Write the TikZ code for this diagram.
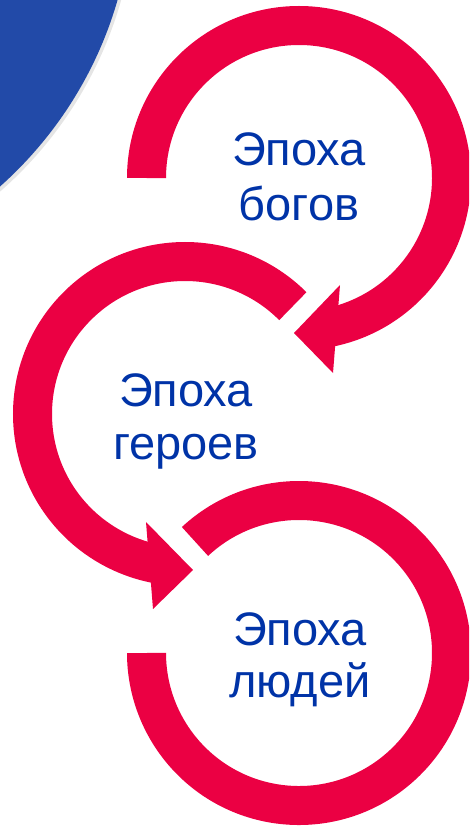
\documentclass[tikz,border=0pt]{standalone}
\usepackage{fontspec}
\setmainfont{Liberation Sans}
\definecolor{ringred}{RGB}{235,0,67}
\definecolor{txtblue}{RGB}{0,51,167}
\definecolor{bgblue}{RGB}{34,74,168}
\begin{document}
\begin{tikzpicture}[x=1pt,y=1pt,
  ring/.style={draw=ringred, line width=39pt, line cap=butt},
  head/.style={fill=ringred},
  lbl/.style={text=txtblue, font=\fontsize{47}{56}\selectfont, anchor=base, inner sep=0pt}]
\useasboundingbox (0,0) rectangle (469,-826);
\clip (0,0) rectangle (469,-826);
% blue corner disc with faint shadow
\fill[black!10] (-262,108) circle[radius=398];
\fill[bgblue] (-264,110) circle[radius=397];
% ring 1 (gods)
\draw[ring] (299,-178) ++(180:152.5) arc[start angle=180,end angle=-80,radius=152.5];
\fill[head] (340,-285) -- (294,-333) -- (333,-373) -- cycle;
% ring 2 (heroes)
\draw[ring] (185,-414) ++(45:152.5) arc[start angle=45,end angle=261,radius=152.5];
\fill[head] (146,-522) -- (193,-570) -- (153,-609) -- cycle;
% ring 3 (people)
\draw[ring] (299,-653) ++(133:152.5) arc[start angle=133,end angle=-180,radius=152.5];
% labels
\node[lbl] (t1a) at (299,-166) {Эпоха};
\node[lbl] (t1b) at (299,-220) {богов};
\node[lbl] (t2a) at (186,-406) {Эпоха};
\node[lbl] (t2b) at (186,-459) {героев};
\node[lbl] (t3a) at (300,-645) {Эпоха};
\node[lbl] (t3b) at (300,-697) {людей};
\end{tikzpicture}
\end{document}
